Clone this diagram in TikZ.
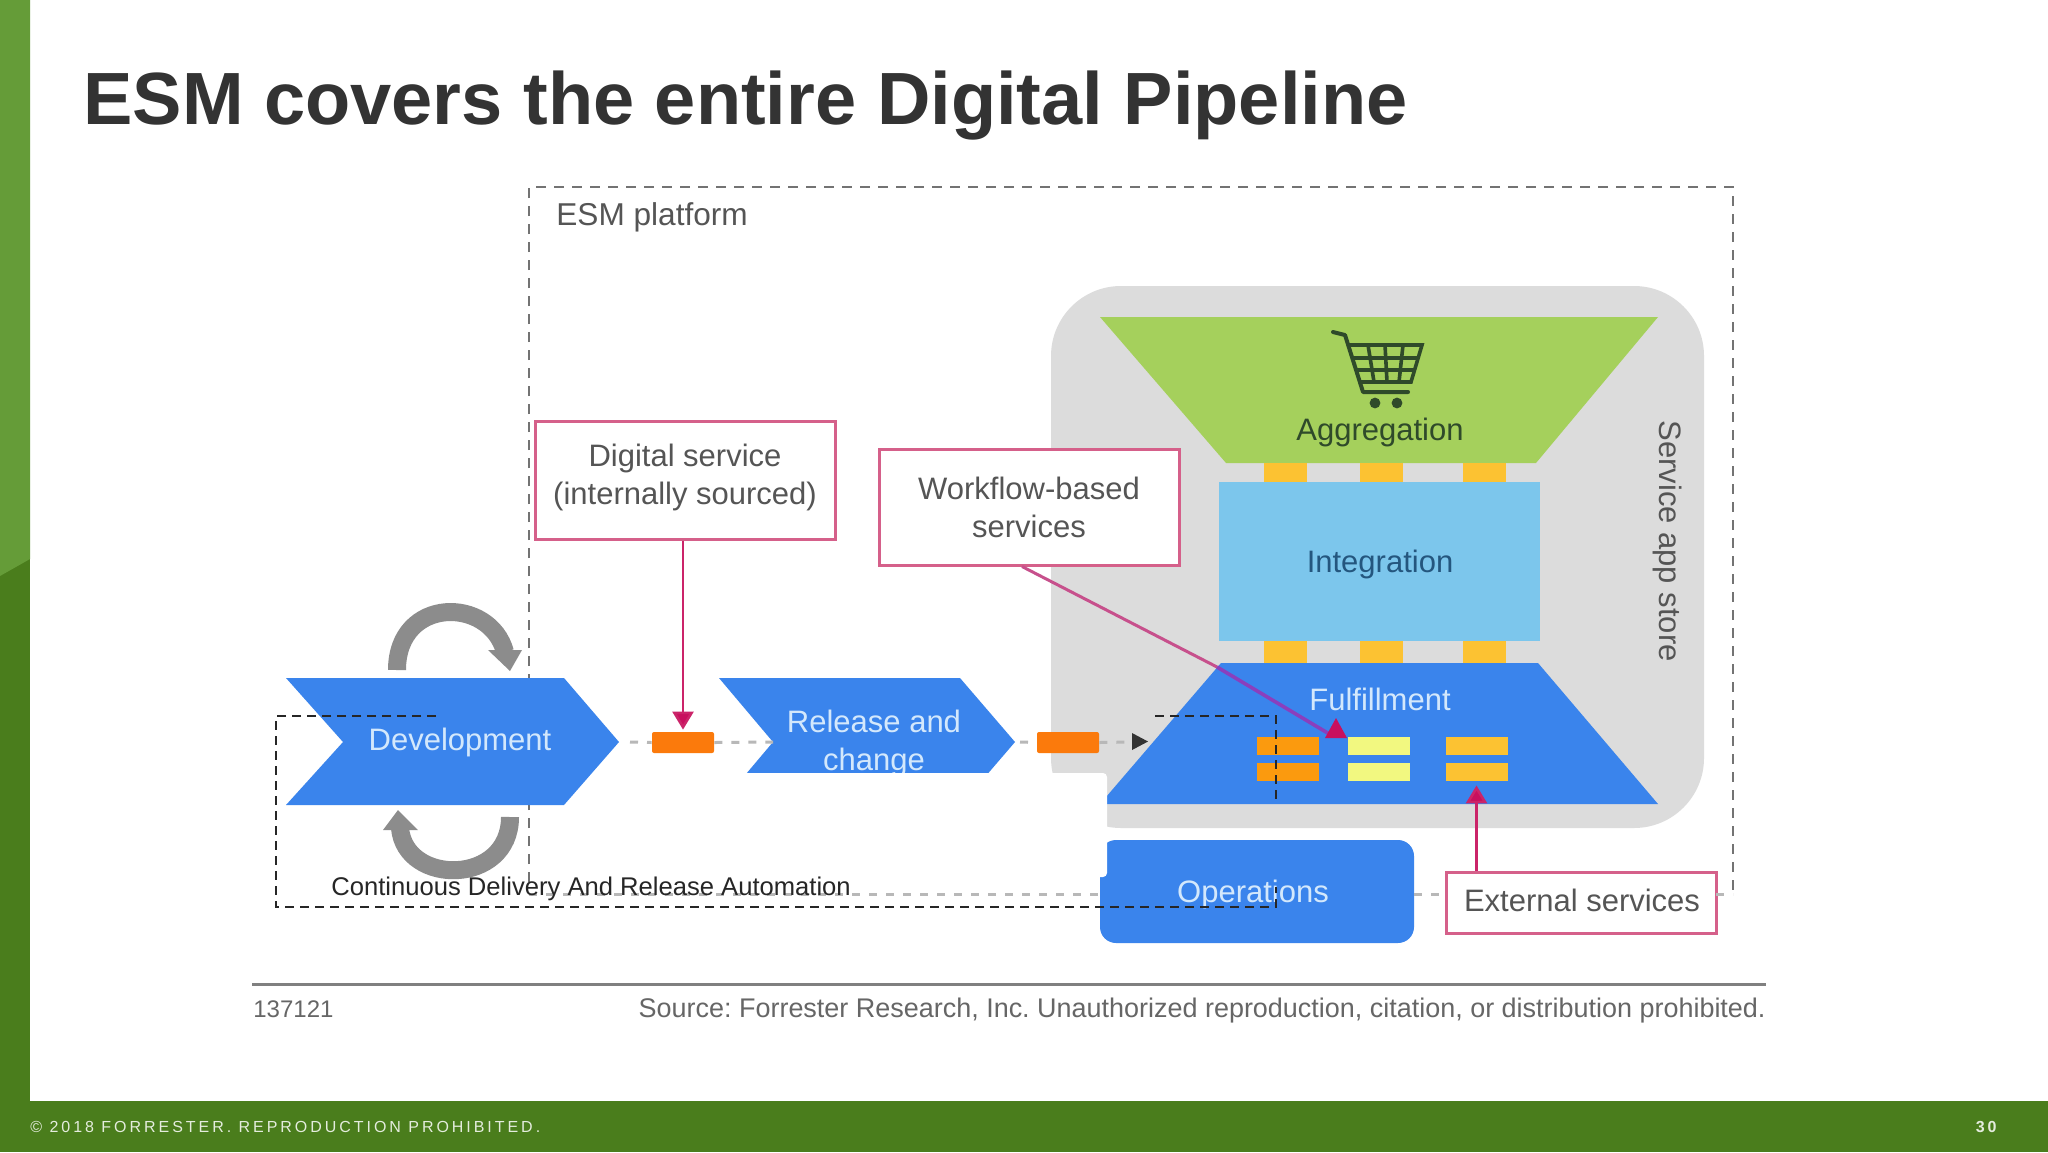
\documentclass[tikz,border=0pt]{standalone}
\usepackage{fontspec}
\setmainfont{Liberation Sans}
\newfontfamily\footfont[LetterSpace=18.5]{Liberation Sans}
\usetikzlibrary{arrows.meta}
\definecolor{bandlight}{HTML}{659C38}
\definecolor{banddark}{HTML}{4A7D1C}
\definecolor{titlegrey}{HTML}{333333}
\definecolor{panelgrey}{HTML}{DCDCDC}
\definecolor{aggreen}{HTML}{A5D05C}
\definecolor{agtext}{HTML}{2F4A2A}
\definecolor{intblue}{HTML}{7CC6EC}
\definecolor{inttext}{HTML}{24567E}
\definecolor{mainblue}{HTML}{3A84EC}
\definecolor{paletext}{HTML}{D3E8FC}
\definecolor{amber}{HTML}{FCC232}
\definecolor{connorange}{HTML}{FB7A0C}
\definecolor{smallorange}{HTML}{FB9A0E}
\definecolor{smallyellow}{HTML}{F2F880}
\definecolor{boxpink}{HTML}{D5608A}
\definecolor{crimson}{HTML}{C8105E}
\definecolor{labelgrey}{HTML}{555555}
\definecolor{arcgrey}{HTML}{8C8C8C}
\definecolor{wfover}{HTML}{C7508C}
\definecolor{wfunder}{HTML}{8A3FBD}
\tikzset{
  x=0.5pt,y=-0.5pt,
  label15/.style={font=\fontsize{15.5}{19}\selectfont,align=center,inner sep=0pt},
  palelabel/.style={label15,text=paletext},
  pinkbox/.style={draw=boxpink,line width=1.5pt,fill=white,inner sep=0pt},
  greylabel/.style={label15,text=labelgrey},
  pinkline/.style={draw=crimson!75!boxpink,line width=1.3pt,-{Triangle[length=9pt,width=10.5pt,fill=crimson]}},
  esmdash/.style={draw=black!55,line width=1.3pt,dash pattern=on 5pt off 4pt},
  flowdash/.style={draw=black!28,line width=1.5pt,dash pattern=on 4pt off 4.5pt},
  overlaydash/.style={draw=black!85,line width=1pt,dash pattern=on 4.5pt off 3pt},
  tag/.style={fill=connorange,minimum width=31pt,minimum height=10.5pt,inner sep=0pt,rounded corners=1pt},
  mini/.style={minimum width=31pt,minimum height=9pt,inner sep=0pt},
  carry/.style={fill=amber,minimum width=21.5pt,minimum height=9.5pt,inner sep=0pt},
  cartline/.style={draw=agtext,line width=1.8pt},
}
\begin{document}
\frenchspacing
\begin{tikzpicture}
\useasboundingbox (0,0) rectangle (2048,1152);
\fill[white] (0,0) rectangle (2048,1152);
% slide frame
\fill[banddark] (0,0) rectangle (30,1152);
\fill[bandlight] (0,0) -- (30,0) -- (30,559) -- (0,576) -- cycle;
\fill[banddark] (0,1101) rectangle (2048,1152);
\node[anchor=base west,inner sep=0pt,text=titlegrey,font=\fontsize{37}{44}\selectfont\bfseries] (title) at (83,124.5) {ESM covers the entire Digital Pipeline};
\node[anchor=west,inner sep=0pt,text=white!85!banddark,font=\fontsize{8}{10}\footfont] (foot) at (30,1127) {© 2018 FORRESTER. REPRODUCTION PROHIBITED.};
\node[anchor=east,inner sep=0pt,text=white!85!banddark,font=\fontsize{8}{10}\footfont\bfseries] (page) at (1997,1127) {30};
% ESM platform outline
\coordinate (esmbl) at (529,882);
\coordinate (esmtl) at (529,187);
\coordinate (esmtr) at (1733,187);
\coordinate (esmbr) at (1733,892);
\draw[esmdash] (esmbl) -- (esmtl) -- (esmtr) -- (esmbr);
\node[anchor=west,inner sep=0pt,text=labelgrey,font=\fontsize{15.8}{19}\selectfont] (esm) at (556,217.5) {ESM platform};
% service app store
\fill[panelgrey,rounded corners=35pt] (1051,286) rectangle (1704,828);
\node[greylabel,rotate=-90] (store) at (1667,541) {Service app store};
% aggregation
\fill[aggreen] (1100,317) -- (1658,317) -- (1536,463) -- (1226,463) -- cycle;
\node[label15,text=agtext] (agg) at (1380,432.5) {Aggregation};
% shopping cart
\draw[cartline,line width=2pt,line cap=round,line join=round] (1333,332) -- (1345,335) -- (1363,392) -- (1408,392);
\draw[cartline] (1347,345) -- (1422,345) -- (1411,382) -- (1360,382);
\draw[cartline] (1351,358) -- (1418,358) (1355,370) -- (1415,370);
\draw[cartline] (1368,345) -- (1374,382) (1385,345) -- (1387,382) (1403,345) -- (1399,382);
\fill[agtext] (1375,403) circle[radius=2.7pt] (1397,403) circle[radius=2.7pt];
% integration
\fill[intblue] (1219,482) rectangle (1540,641);
\node[label15,text=inttext] (integ) at (1380,564) {Integration};
\node[carry] (c1) at (1285,472.5) {};
\node[carry] (c2) at (1381.5,472.5) {};
\node[carry] (c3) at (1484,472.5) {};
\node[carry,minimum height=11pt] (c4) at (1285,652) {};
\node[carry,minimum height=11pt] (c5) at (1381.5,652) {};
\node[carry,minimum height=11pt] (c6) at (1484,652) {};
% flow dashes
\coordinate (devtip) at (619,742);
\coordinate (relnotch) at (773,742);
\coordinate (reltip) at (1015,742);
\coordinate (flowhead) at (1132,742);
% fulfillment
\fill[mainblue] (1221,663) -- (1538,663) -- (1658,804) -- (1100,804) -- cycle;
\node[palelabel] (ful) at (1380,699) {Fulfillment};
\node[mini,fill=smallorange] (o1) at (1288,746) {};
\node[mini,fill=smallorange] (o2) at (1288,772) {};
\node[mini,fill=smallyellow] (y1) at (1379,746) {};
\node[mini,fill=smallyellow] (y2) at (1379,772) {};
\node[mini,fill=amber] (a1) at (1476.5,746) {};
\node[mini,fill=amber] (a2) at (1476.5,772) {};
% development arrows
\draw[arcgrey,line width=9pt] (397,670) .. controls (397,596) and (490,596) .. (505,652);
\fill[arcgrey] (488,650) -- (522,650) -- (510,671) -- cycle;
\draw[arcgrey,line width=9pt] (510,817) .. controls (510,886) and (405,886) .. (400,828);
\fill[arcgrey] (383,830) -- (418,830) -- (398,810) -- cycle;
% chevrons
\fill[mainblue] (286,678) -- (564,678) -- (619,742) -- (564,805) -- (286,805) -- (343,742) -- cycle;
\node[palelabel] (dev) at (460,742.5) {Development};
\fill[mainblue] (719,678) -- (960,678) -- (1015,742) -- (960,806) -- (719,806) -- (773,742) -- cycle;
\node[palelabel] (rel) at (874,743) {Release and\\change};
% connector tags
\node[tag] (tag1) at (683,742.5) {};
\node[tag] (tag2) at (1068,742.5) {};
\draw[flowdash] (devtip) ++(11,0) -- (tag1.west);
\draw[flowdash] (tag1.east) -- (relnotch);
\draw[flowdash] (reltip) ++(5,0) -- (tag2.west);
\draw[flowdash] (tag2.east) -- (flowhead);
\fill[black!80] (1132,733) -- (1148,741.5) -- (1132,750) -- cycle;
% operations
\node[fill=mainblue,minimum width=157pt,minimum height=51.5pt,rounded corners=8pt,inner sep=0pt] (ops) at (1257,891.5) {};
\node[palelabel] (opstext) at (1253,894) {Operations};
\node[pinkbox,minimum width=135pt,minimum height=30.5pt] (ext) at (1581,902.5) {};
\node[greylabel] (exttext) at (1582,900.5) {External services};
\draw[flowdash] (esmbl |- ops.west) ++(0,2.5) -- (1100,894);
\draw[flowdash] (ops.east |- ext.west) ++(0,-8.5) -- (1446,894);
\draw[flowdash] (1716,894) -- (1733,894);
% pink callouts
\node[pinkbox,minimum width=150pt,minimum height=59pt] (dig) at (685,480) {};
\node[greylabel] (digtext) at (685,477) {Digital service\\(internally sourced)};
\node[pinkbox,minimum width=150pt,minimum height=58pt] (wf) at (1029,507) {};
\node[greylabel] (wftext) at (1029,507) {Workflow-based\\services};
\draw[pinkline] (dig.south -| tag1.north) -- ([yshift=1pt]tag1.north);
\draw[pinkline] (ext.north -| a2.south) -- ([yshift=-2pt]a2.south);
\coordinate (wfcross) at (1217,667);
\coordinate (wfend) at (1331,735);
\draw[wfover,line width=1.5pt] ([xshift=-3.5pt]wf.south) -- (wfcross);
\draw[wfunder,line width=1.8pt] (wfcross) -- (wfend);
\fill[crimson] (1336,718) -- (1347,738) -- (1325,738) -- cycle;
% white patch laid over the figure
\fill[white,rounded corners=2pt] (700,773) rectangle (1107,877);
% overlay dashes
\coordinate (ovtl) at (276,716);
\coordinate (ovbl) at (276,907);
\coordinate (ovbr) at (1276,907);
\draw[overlaydash] (436,716) -- (ovtl) -- (ovbl) -- (ovbr) -- (1276,887);
\draw[overlaydash] (1155,716) -- (1276,716) -- (1276,803);
\node[anchor=west,inner sep=0pt,text=black!85,font=\fontsize{12.8}{15}\selectfont] (cd) at (331,888.5) {Continuous Delivery And Release Automation};
% source line
\draw[black!50,line width=1.5pt] (252,984) coordinate (rulel) -- (1766,984) coordinate (ruler);
\node[anchor=west,inner sep=0pt,text=black!60,font=\fontsize{12}{14}\selectfont] (num) at (253,1009) {137121};
\node[anchor=east,inner sep=0pt,text=black!60,font=\fontsize{13.48}{15}\selectfont] (src) at (1766,1011) {Source: Forrester Research, Inc. Unauthorized reproduction, citation, or distribution prohibited.};
\end{tikzpicture}
\end{document}
